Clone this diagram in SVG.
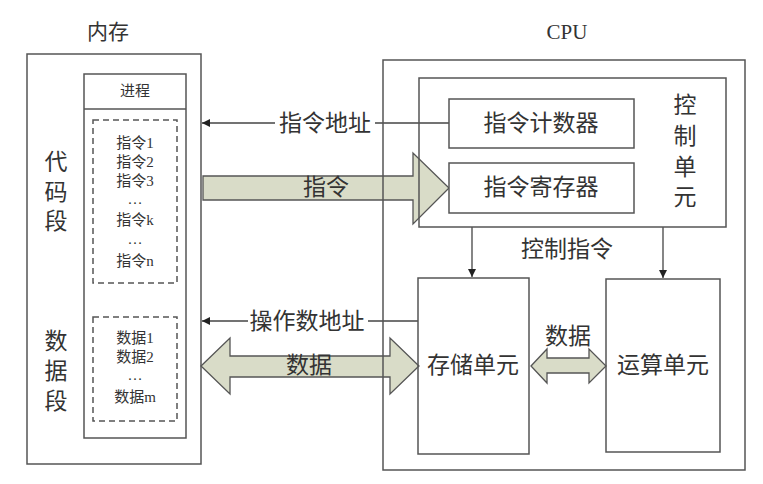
<svg xmlns="http://www.w3.org/2000/svg" width="763" height="484" viewBox="0 0 763 484">
<style>
text{font-family:"Liberation Serif","Noto Sans CJK SC",serif;fill:#333;text-anchor:middle;dominant-baseline:central}
.box{fill:none;stroke:#555;stroke-width:1.5}
.wbox{fill:#fff;stroke:#555;stroke-width:1.5}
.dash{fill:none;stroke:#555;stroke-width:1.5;stroke-dasharray:6 4}
.ln{fill:none;stroke:#444;stroke-width:1.3}
.fat{fill:#D9DCC8;stroke:#555;stroke-width:1.3;stroke-linejoin:miter}
.t22{font-size:22px}
.t23{font-size:23px}
.t15{font-size:15px}
</style>
<defs>
<marker id="ah" viewBox="0 0 10 10" refX="10" refY="5" markerWidth="10" markerHeight="8" markerUnits="userSpaceOnUse" orient="auto">
<path d="M0,0 L10,5 L0,10 z" fill="#222"/>
</marker>
</defs>
<rect width="763" height="484" fill="#fff"/>

<g id="connectors">
<polygon class="fat" points="203,176 413,176 413,153 449,188 413,224 413,200 203,200"/>
<polygon class="fat" points="201,366 230,338 230,356 390,356 390,338 419,366 390,394 390,377 230,377 230,394"/>
<polygon class="fat" points="531,366 547,349 547,358 589,358 589,349 606,366 589,383 589,373 547,373 547,383"/>
<line class="ln" x1="449" y1="123" x2="375" y2="123"/>
<line class="ln" x1="275" y1="123" x2="202" y2="123" marker-end="url(#ah)"/>
<line class="ln" x1="418" y1="321" x2="368" y2="321"/>
<line class="ln" x1="248" y1="321" x2="202" y2="321" marker-end="url(#ah)"/>
<line class="ln" x1="472" y1="227" x2="472" y2="277" marker-end="url(#ah)"/>
<line class="ln" x1="663" y1="227" x2="663" y2="278" marker-end="url(#ah)"/>
<text class="t23" x="325" y="123">指令地址</text>
<text class="t23" x="307" y="321">操作数地址</text>
<text class="t23" x="326" y="187">指令</text>
<text class="t23" x="309" y="365">数据</text>
<text class="t23" x="568" y="336">数据</text>
<text class="t23" x="567" y="249">控制指令</text>
</g>

<g id="memory">
<text x="108" y="32" style="font-size:21px">内存</text>
<rect class="box" x="27" y="54" width="174" height="410"/>
<text class="t23" x="56" y="162">代</text>
<text class="t23" x="56" y="192">码</text>
<text class="t23" x="56" y="221">段</text>
<text class="t23" x="56" y="341">数</text>
<text class="t23" x="56" y="371">据</text>
<text class="t23" x="56" y="401">段</text>
</g>

<g id="process">
<rect class="box" x="84" y="74" width="102" height="364"/>
<line class="box" x1="84" y1="109" x2="186" y2="109"/>
<text class="t15" x="135" y="91">进程</text>
</g>

<g id="code-segment">
<rect class="dash" x="93" y="120" width="84" height="163"/>
<text class="t15" x="135" y="143">指令1</text>
<text class="t15" x="135" y="162">指令2</text>
<text class="t15" x="135" y="181">指令3</text>
<text class="t15" x="135" y="199">…</text>
<text class="t15" x="135" y="220">指令k</text>
<text class="t15" x="135" y="239">…</text>
<text class="t15" x="135" y="261">指令n</text>
</g>

<g id="data-segment">
<rect class="dash" x="93" y="317" width="84" height="104"/>
<text class="t15" x="135" y="338">数据1</text>
<text class="t15" x="135" y="357">数据2</text>
<text class="t15" x="135" y="375">…</text>
<text class="t15" x="135" y="397">数据m</text>
</g>

<g id="cpu">
<text x="567" y="32" style="font-size:21px">CPU</text>
<rect class="box" x="383" y="60" width="362" height="410"/>
</g>

<g id="control-unit">
<rect class="box" x="419" y="78" width="307" height="149"/>
<text class="t23" x="685" y="105">控</text>
<text class="t23" x="685" y="136">制</text>
<text class="t23" x="685" y="167">单</text>
<text class="t23" x="685" y="197">元</text>
</g>

<g id="pc">
<rect class="wbox" x="449" y="99" width="185" height="49"/>
<text class="t23" x="541" y="123">指令计数器</text>
</g>

<g id="ir">
<rect class="wbox" x="449" y="163" width="185" height="50"/>
<text class="t23" x="541" y="187">指令寄存器</text>
</g>

<g id="storage">
<rect class="box" x="418" y="278" width="111" height="176"/>
<text class="t23" x="473" y="365">存储单元</text>
</g>

<g id="alu">
<rect class="box" x="606" y="279" width="114" height="173"/>
<text class="t23" x="663" y="365">运算单元</text>
</g>
</svg>
